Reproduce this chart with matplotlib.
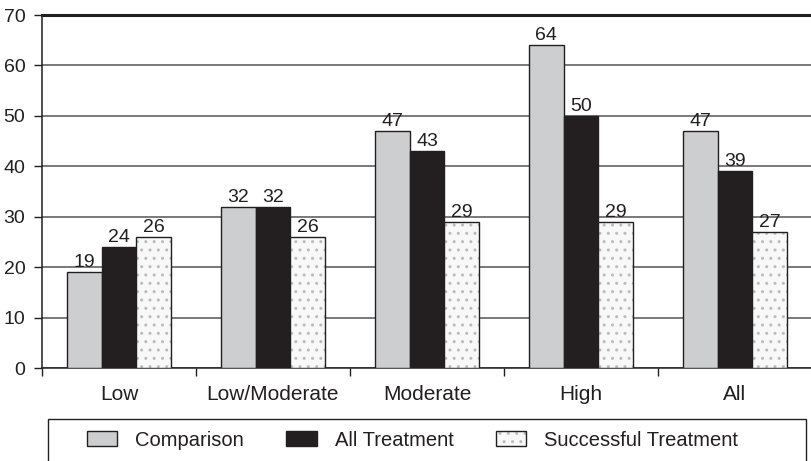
import matplotlib.pyplot as plt
from matplotlib.patches import Patch, Rectangle
import numpy as np

plt.rcParams['font.family'] = ['Liberation Sans', 'DejaVu Sans']

categories = ['Low', 'Low/Moderate', 'Moderate', 'High', 'All']
comparison = [19, 32, 47, 64, 47]
all_treatment = [24, 32, 43, 50, 39]
successful = [26, 26, 29, 29, 27]
series_names = ['Comparison', 'All Treatment', 'Successful Treatment']

gray = '#cdcecf'
black = '#231f20'
dots = '#f8f8f8'
dotcol = '#bcbcbc'

fig = plt.figure(figsize=(8.12, 4.61), dpi=100)
ax = fig.add_axes([42 / 812, 1 - 368 / 461, 1 - 42 / 812, (368 - 15) / 461])

x = np.arange(len(categories))
w = 0.226

ax.bar(x - w, comparison, w, color=gray, edgecolor=black, linewidth=1, zorder=3)
ax.bar(x, all_treatment, w, color=black, edgecolor=black, linewidth=1, zorder=3)
# dotted fill and border drawn separately so the dots stay light
ax.bar(x + w, successful, w, color=dots, edgecolor=dotcol, hatch='..',
       linewidth=0, zorder=3)
ax.bar(x + w, successful, w, fill=False, edgecolor=black, linewidth=1, zorder=4)

for vals, off in [(comparison, -w), (all_treatment, 0), (successful, w)]:
    for xi, v in zip(x, vals):
        ax.text(xi + off, v + 0.2, str(v), ha='center', va='bottom',
                fontsize=14, color=black, zorder=5)

ax.set_xlim(-0.5, len(categories) - 0.5)
ax.set_ylim(0, 70)
ax.set_yticks(range(0, 71, 10))
ax.yaxis.grid(True, color='#555555', linewidth=1.1)
ax.set_axisbelow(True)

ax.set_xticks(np.arange(-0.5, len(categories), 1.0))
ax.set_xticklabels([])
ax.set_xticks(x, minor=True)
ax.set_xticklabels(categories, minor=True)
ax.tick_params(axis='x', which='major', direction='out', length=6, width=1, color=black)
ax.tick_params(axis='x', which='minor', length=0, pad=12, labelsize=15, labelcolor=black)
ax.tick_params(axis='y', direction='out', length=6, width=1, color=black,
               labelsize=14, labelcolor=black, pad=6)

ax.spines['right'].set_visible(False)
ax.spines['top'].set_linewidth(2.2)
ax.spines['top'].set_color(black)
ax.spines['left'].set_color(black)
ax.spines['bottom'].set_color(black)
ax.spines['left'].set_linewidth(1.1)
ax.spines['bottom'].set_linewidth(1.1)

# legend box runs off the bottom edge
fig.add_artist(Rectangle((48 / 812, 1 - 470 / 461), (806 - 48) / 812, 51 / 461,
                         transform=fig.transFigure, fill=False,
                         edgecolor=black, linewidth=1))

handles = [
    Patch(facecolor=gray, edgecolor=black, linewidth=1),
    Patch(facecolor=black, edgecolor=black, linewidth=1),
    (Patch(facecolor=dots, edgecolor=dotcol, hatch='..', linewidth=0),
     Patch(fill=False, edgecolor=black, linewidth=1)),
]
leg = fig.legend(handles, series_names, ncol=3, loc='center left',
                 bbox_to_anchor=(87 / 812, 1 - 440 / 461),
                 frameon=False, fontsize=14.5,
                 handlelength=1.5, handleheight=0.8, handletextpad=0.9,
                 columnspacing=2.1, borderpad=0, borderaxespad=0)
for t in leg.get_texts():
    t.set_color(black)

fig.savefig('out.png', dpi=100)
